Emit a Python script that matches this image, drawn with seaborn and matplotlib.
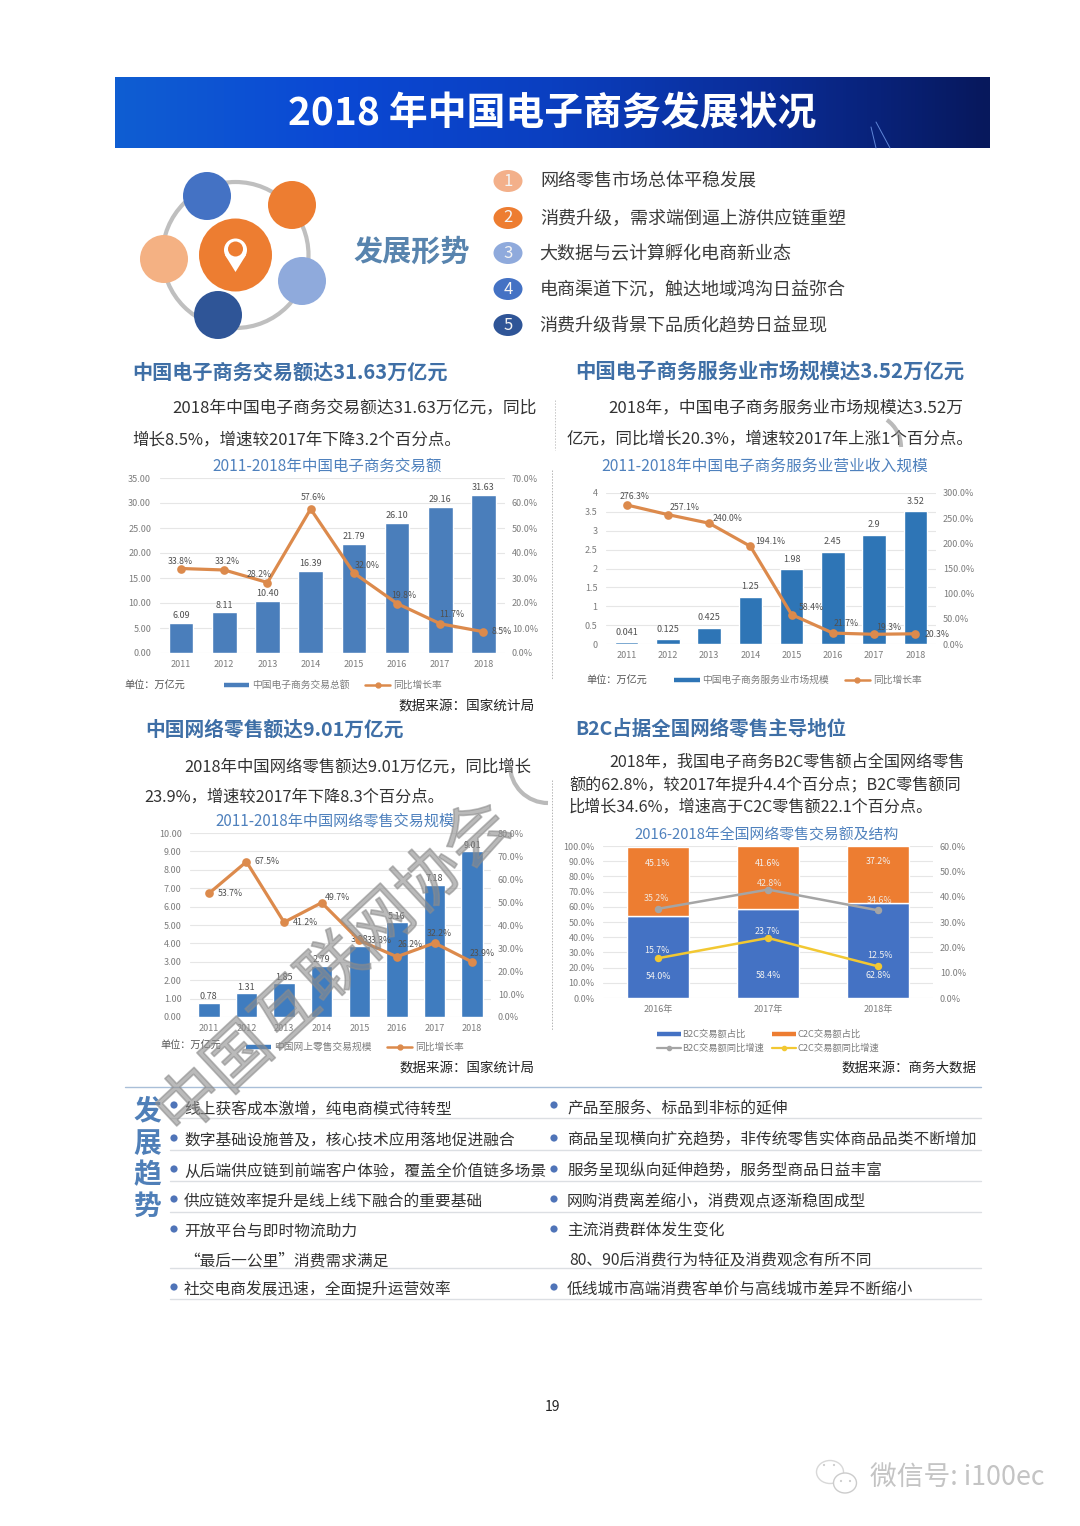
import numpy as np
import pandas as pd
import seaborn as sns
import matplotlib.pyplot as plt
import matplotlib.patheffects as pe
from matplotlib.colors import LinearSegmentedColormap
from matplotlib.lines import Line2D
from matplotlib.patches import Arc, Circle, Ellipse, Polygon
from matplotlib.ticker import FuncFormatter

W, H = 1080, 1526

# chart data
years = ['2011', '2012', '2013', '2014', '2015', '2016', '2017', '2018']
trade_total = [6.09, 8.11, 10.40, 16.39, 21.79, 26.10, 29.16, 31.63]
trade_rate = [33.8, 33.2, 28.2, 57.6, 32.0, 19.8, 11.7, 8.5]
service_total = [0.041, 0.125, 0.425, 1.25, 1.98, 2.45, 2.9, 3.52]
service_rate = [276.3, 257.1, 240.0, 194.1, 58.4, 21.7, 19.3, 20.3]
retail_total = [0.78, 1.31, 1.85, 2.79, 3.88, 5.16, 7.18, 9.01]
retail_rate = [53.7, 67.5, 41.2, 49.7, 33.3, 26.2, 32.2, 23.9]
share_years = ['2016年', '2017年', '2018年']
b2c_share = [54.0, 58.4, 62.8]
c2c_share = [45.1, 41.6, 37.2]
b2c_rate = [35.2, 42.8, 34.6]
c2c_rate = [15.7, 23.7, 12.5]

# label offsets in pixels, from the line points
trade_off = [(-1, 7), (3, 9), (-8, 8), (3, 11), (13, 8), (7, 8), (12, 9), (18, 0)]
service_off = [(8, 8), (17, 7), (18, 5), (20, 5), (20, 7), (13, 10), (15, 7), (22, -1)]
retail_off = [(21, 0), (21, 0), (21, 0), (16, 5), (20, 0), (13, 12), (5, 9), (10, 9)]
b2c_off = [(-2, 10), (2, 6), (2, 10)]
c2c_off = [(-1, 8), (-1, 6), (2, 11)]

# page text
trends = ['网络零售市场总体平稳发展', '消费升级，需求端倒逼上游供应链重塑', '大数据与云计算孵化电商新业态',
          '电商渠道下沉，触达地域鸿沟日益弥合', '消费升级背景下品质化趋势日益显现']
left_items = ['线上获客成本激增，纯电商模式待转型', '数字基础设施普及，核心技术应用落地促进融合',
              '从后端供应链到前端客户体验，覆盖全价值链多场景', '供应链效率提升是线上线下融合的重要基础',
              '开放平台与即时物流助力', '“最后一公里”消费需求满足', '社交电商发展迅速，全面提升运营效率']
right_items = ['产品至服务、标品到非标的延伸', '商品呈现横向扩充趋势，非传统零售实体商品品类不断增加',
               '服务呈现纵向延伸趋势，服务型商品日益丰富', '网购消费离差缩小，消费观点逐渐稳固成型',
               '主流消费群体发生变化', '80、90后消费行为特征及消费观念有所不同', '低线城市高端消费客单价与高线城市差异不断缩小']

BLUE = '#4a7ebb'
ORANGE = '#dc8a4c'
TICK = '#7c7c7c'
LABEL = '#505050'
HEAD = '#3f6fa6'
BODY = '#333333'

sns.set_theme(style='white')
plt.rcParams['font.family'] = ['Noto Sans CJK SC', 'DejaVu Sans']

fig = plt.figure(figsize=(W / 100, H / 100), dpi=100, facecolor='white')


def px_axes(x0, y0, x1, y1, **kw):
    return fig.add_axes([x0 / W, 1 - y1 / H, (x1 - x0) / W, (y1 - y0) / H], **kw)


page = px_axes(0, 0, W, H, zorder=-1)
page.set_xlim(0, W)
page.set_ylim(H, 0)
page.axis('off')


def put(x, y, s, size, color=BODY, weight='normal', ha='left', ax=page, **kw):
    # CJK glyphs sit a little high with va=center
    ax.text(x, y + 1, s, fontsize=size, color=color, fontweight=weight, ha=ha, va='center', **kw)


def rate_labels(ax, values, offsets, color=LABEL, size=6.3):
    for i, (v, off) in enumerate(zip(values, offsets)):
        ax.annotate(f'{v:.1f}%', (i, v), xytext=(off[0] * 0.72, off[1] * 0.72), textcoords='offset points',
                    ha='center', va='center', fontsize=size, color=color)


def style_axes(ax, tw, ymax, rmax, ystep, rstep, yfmt):
    ax.set_ylim(0, ymax)
    tw.set_ylim(0, rmax)
    ax.set_yticks(np.arange(0, ymax + ystep / 2, ystep))
    tw.set_yticks(np.arange(0, rmax + rstep / 2, rstep))
    ax.yaxis.set_major_formatter(FuncFormatter(lambda v, _: yfmt % v))
    tw.yaxis.set_major_formatter(FuncFormatter(lambda v, _: f'{v:.1f}%'))
    ax.grid(axis='y', color='#e6e6e6', lw=0.8)
    ax.set_axisbelow(True)
    tw.grid(False)
    ax.set_xlabel('')
    ax.set_ylabel('')
    tw.set_xlabel('')
    tw.set_ylabel('')
    n = len(ax.get_xticks())
    ax.set_xlim(-0.5, n - 0.5)
    tw.set_xlim(-0.5, n - 0.5)
    for a in (ax, tw):
        a.patch.set_alpha(0)
        sns.despine(ax=a, left=True, right=True, top=True, bottom=True)
        a.tick_params(axis='both', length=0, labelsize=6.5, labelcolor=TICK, pad=5)
    ax.tick_params(axis='y', pad=6)
    tw.tick_params(axis='y', pad=5)


def combo(rect, cats, totals, rates, ymax, rmax, ystep, rstep, yfmt, barfmt, color, offsets, pad):
    ax = px_axes(*rect)
    df = pd.DataFrame({'year': cats, 'total': totals, 'rate': rates})
    sns.barplot(data=df, x='year', y='total', color=color, saturation=1, width=0.57, ax=ax)
    ax.bar_label(ax.containers[0], fmt=barfmt, padding=pad, fontsize=6.5, color=LABEL)
    tw = ax.twinx()
    sns.pointplot(data=df, x='year', y='rate', color=ORANGE, markers='o', markersize=4.5, linewidth=2.3, ax=tw)
    style_axes(ax, tw, ymax, rmax, ystep, rstep, yfmt)
    rate_labels(tw, rates, offsets)
    return ax, tw


def bar_legend(ax, label, color, cx, cy, rate_label='同比增长率'):
    handles = [Line2D([], [], color=color, lw=3.2, solid_capstyle='butt'),
               Line2D([], [], color=ORANGE, lw=1.8, marker='o', ms=3.5)]
    ax.legend(handles, [label, rate_label], ncol=2, loc='center', bbox_to_anchor=(cx / W, 1 - cy / H),
              bbox_transform=fig.transFigure, frameon=False, fontsize=7, labelcolor=TICK,
              handlelength=2.6, handletextpad=0.3, columnspacing=1.6, borderpad=0)


# header band
cmap = LinearSegmentedColormap.from_list('band', ['#0f5ed2', '#0b48d4', '#0a3fc0', '#0a2c96', '#07185c'])
band = np.linspace(0, 1, 256).reshape(1, -1)
page.imshow(band, extent=[115, 990, 148, 77], aspect='auto', cmap=cmap, zorder=1)
page.set_xlim(0, W)
page.set_ylim(H, 0)
put(552, 113, '2018 年中国电子商务发展状况', 28, 'white', 'bold', ha='center', zorder=3)
page.plot([871, 876], [127, 148], color='#5f86d8', lw=0.7, zorder=2)
page.plot([876, 890], [122, 148], color='#5f86d8', lw=0.7, zorder=2)

# trend graphic
page.add_patch(Circle((235.5, 255), 73, fill=False, ec='#bfbfbf', lw=3))
for (cx, cy), c in zip([(207, 196), (292, 205), (302, 281), (218, 315), (164, 259)],
                       ['#4472c4', '#ed7d31', '#8faadc', '#2f5597', '#f4b183']):
    page.add_patch(Circle((cx, cy), 24, fc=c, ec='none', zorder=2))
page.add_patch(Circle((235.5, 255), 36.5, fc='#ed7d31', ec='none', zorder=2))
page.add_patch(Circle((235.5, 250), 11.5, fc='white', ec='none', zorder=3))
page.add_patch(Polygon([(225, 255), (246, 255), (235.5, 272)], fc='white', ec='none', zorder=3))
page.add_patch(Circle((235.5, 249), 7.5, fc='#ed7d31', ec='none', zorder=4))
put(353, 251, '发展形势', 21, '#5884ae', 'bold')

for i, (y, c, s) in enumerate(zip([181, 218, 253, 289, 325],
                                  ['#f3b08a', '#ed7d31', '#8faadc', '#4472c4', '#2f5597'], trends)):
    page.add_patch(Ellipse((508, y), 29, 22, fc=c, ec='none', zorder=2))
    put(508, y - 1, str(i + 1), 12, '#f4f4f4', ha='center', zorder=3)
    put(540 if i not in (2, 4) else 539, y, s, 13, '#3c3c3c')

# headings and paragraphs
put(132, 371, '中国电子商务交易额达31.63万亿元', 14.5, HEAD, 'bold')
put(172, 408, '2018年中国电子商务交易额达31.63万亿元，同比', 12.1)
put(132, 439, '增长8.5%，增速较2017年下降3.2个百分点。', 11.9)
put(575, 370, '中国电子商务服务业市场规模达3.52万亿元', 14.7, HEAD, 'bold')
put(608, 408, '2018年，中国电子商务服务业市场规模达3.52万', 12.1)
put(567, 438, '亿元，同比增长20.3%，增速较2017年上涨1个百分点。', 11.9)
put(145, 729, '中国网络零售额达9.01万亿元', 14.2, HEAD, 'bold')
put(184, 766, '2018年中国网络零售额达9.01万亿元，同比增长', 11.8)
put(144, 796, '23.9%，增速较2017年下降8.3个百分点。', 11.7)
put(575, 728, 'B2C占据全国网络零售主导地位', 14.0, HEAD, 'bold')
put(609, 761, '2018年，我国电子商务B2C零售额占全国网络零售', 11.6)
put(569, 784, '额的62.8%，较2017年提升4.4个百分点；B2C零售额同', 11.6)
put(569, 806, '比增长34.6%，增速高于C2C零售额22.1个百分点。', 11.6)

# chart titles, units, sources
put(327, 465, '2011-2018年中国电子商务交易额', 11.2, '#4f81bd', ha='center')
put(765, 465, '2011-2018年中国电子商务服务业营业收入规模', 11.3, '#4f81bd', ha='center')
put(335, 820, '2011-2018年中国网络零售交易规模', 10.9, '#4f81bd', ha='center')
put(767, 834, '2016-2018年全国网络零售交易额及结构', 10.7, '#4f81bd', ha='center')
put(124, 684, '单位：万亿元', 7.3, '#555555')
put(586, 679, '单位：万亿元', 7.3, '#555555')
put(160, 1044, '单位：万亿元', 7.3, '#555555')
put(398, 705, '数据来源：国家统计局', 9.8, '#222222')
put(400, 1067, '数据来源：国家统计局', 9.7, '#222222')
put(841, 1067, '数据来源：商务大数据', 9.7, '#222222')

# dotted dividers
page.plot([552, 552], [470, 680], color='#b5b5b5', lw=0.7, ls=(0, (1.5, 1.5)))
page.plot([552, 552], [780, 1030], color='#b5b5b5', lw=0.7, ls=(0, (1.5, 1.5)))
page.plot([555, 555], [400, 450], color='#c5c5c5', lw=0.7, ls=(0, (1.5, 1.5)))

# the three bar + line charts
ax1, tw1 = combo((159.5, 478, 505, 653), years, trade_total, trade_rate, 35, 70, 5, 10, '%.2f', '%.2f', BLUE, trade_off, 2)
bar_legend(tw1, '中国电子商务交易总额', BLUE, 333, 685)
ax2, tw2 = combo((606, 493, 936, 644), years, service_total, service_rate, 4, 300, 0.5, 50, '%g', '%g', '#2e75b6', service_off, 4)
bar_legend(tw2, '中国电子商务服务业市场规模', '#2e75b6', 798, 680)
ax3, tw3 = combo((190, 833, 491, 1017), years, retail_total, retail_rate, 10, 80, 1, 10, '%.2f', '%.2f', '#3f7cbf', retail_off, 1)
bar_legend(tw3, '中国网上零售交易规模', '#3f7cbf', 355, 1047)

# stacked share chart
ax4 = px_axes(603, 846, 933, 998)
share = pd.DataFrame({'year': share_years, 'b2c': b2c_share, 'c2c': c2c_share, 'b2c_rate': b2c_rate, 'c2c_rate': c2c_rate})
sns.barplot(data=share, x='year', y='b2c', color='#4472c4', saturation=1, width=0.57, ax=ax4)
sns.barplot(data=share, x='year', y='c2c', bottom=share['b2c'], color='#ed7d31', saturation=1, width=0.57, ax=ax4)
ax4.set_xticks(range(len(share_years)), share_years)
for i, (b, c, db, dc) in enumerate(zip(b2c_share, c2c_share, [-20, -22, -25], [18, 14, 13])):
    ax4.annotate(f'{b:.1f}%', (i, b / 2), xytext=(0, db * 0.72), textcoords='offset points', ha='center', va='center', fontsize=6.4, color='#f2f2f2')
    ax4.annotate(f'{c:.1f}%', (i, b + c / 2), xytext=(0, dc * 0.72), textcoords='offset points', ha='center', va='center', fontsize=6.4, color='#f2f2f2')
tw4 = ax4.twinx()
sns.pointplot(data=share, x='year', y='b2c_rate', color='#a5a5a5', markers='o', markersize=4, linewidth=1.8, ax=tw4)
sns.pointplot(data=share, x='year', y='c2c_rate', color='#f2c832', markers='o', markersize=4, linewidth=1.8, ax=tw4)
style_axes(ax4, tw4, 100, 60, 10, 10, '%.1f%%')
rate_labels(tw4, b2c_rate, b2c_off, '#f0e6dc', 6.4)
rate_labels(tw4, c2c_rate, c2c_off, '#f0f0f0', 6.4)
tw4.legend([Line2D([], [], color='#4472c4', lw=3.2, solid_capstyle='butt'),
            Line2D([], [], color='#a5a5a5', lw=1.6, marker='o', ms=3),
            Line2D([], [], color='#ed7d31', lw=3.2, solid_capstyle='butt'),
            Line2D([], [], color='#f2c832', lw=1.6, marker='o', ms=3)],
           ['B2C交易额占比', 'B2C交易额同比增速', 'C2C交易额占比', 'C2C交易额同比增速'],
           ncol=2, loc='center', bbox_to_anchor=(768 / W, 1 - 1041.5 / H), bbox_transform=fig.transFigure,
           frameon=False, fontsize=6.7, labelcolor=TICK, handlelength=2.6, handletextpad=0.2,
           columnspacing=0.8, labelspacing=0.55, borderpad=0)

# trends block
page.plot([125, 981], [1087, 1087], color='#a9bfd8', lw=1)
for y, ch in zip([1110, 1143, 1174, 1206], '发展趋势'):
    put(147, y, ch, 20, '#4f7fb8', 'bold', ha='center')
for y in [1118, 1150, 1181, 1212, 1268, 1299]:
    page.plot([170, 981], [y, y], color='#dcdfe3', lw=1)
rows_y = [1108, 1139, 1170, 1201, 1230, 1260, 1289]
bullets_y = [1105, 1138, 1169, 1199, 1229, None, 1287]
for y, by, ls, rs in zip(rows_y, bullets_y, left_items, right_items):
    put(184, y, ls, 11.3)
    put(567 if by else 569, y, rs, 11.3)
    if by:
        page.add_patch(Circle((174, by), 3.6, fc='#4f74b8', ec='none'))
        page.add_patch(Circle((554, by), 3.6, fc='#4f74b8', ec='none'))

put(553, 1406, '19', 10, '#222222', ha='center')

# watermarks on top of everything
top = px_axes(0, 0, W, H, zorder=5)
top.set_xlim(0, W)
top.set_ylim(H, 0)
top.axis('off')
top.patch.set_alpha(0)
wm = top.text(335, 970, '中国互联网协会', fontsize=47, color='#8c8c8c', alpha=0.6, rotation=43,
              rotation_mode='anchor', ha='center', va='center')
wm.set_path_effects([pe.Stroke(linewidth=1.2, foreground='#8c8c8c', alpha=0.6)])
top.add_patch(Arc((548, 765), 76, 76, theta1=90, theta2=180, color='#8c8c8c', alpha=0.6, lw=3))
top.add_patch(Arc((868, 447), 66, 66, theta1=-55, theta2=0, color='#8c8c8c', alpha=0.6, lw=3))
put(870, 1476, '微信号: i100ec', 19.3, '#c4c4c4', ax=top)
top.add_patch(Ellipse((830, 1472), 27, 23, fill=False, ec='#d8d8d8', lw=1))
top.add_patch(Ellipse((845, 1483), 23, 20, fc='white', ec='#cccccc', lw=1))
for x, y in [(824, 1465), (834, 1465), (841, 1481), (850, 1481)]:
    top.add_patch(Circle((x, y), 1.1, fc='#cccccc', ec='none'))

fig.savefig('out.png', dpi=100)
